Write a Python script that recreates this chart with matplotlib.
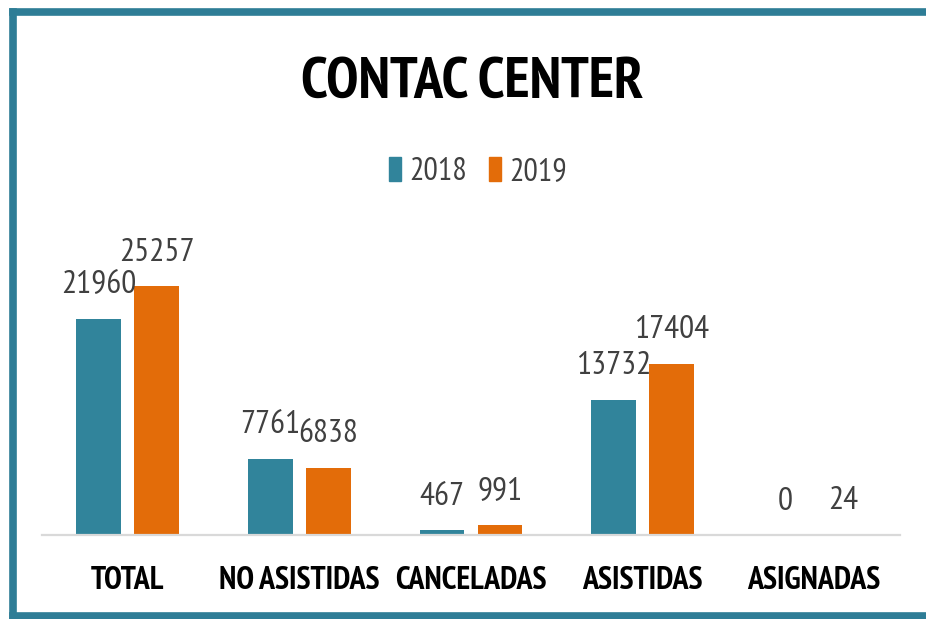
import matplotlib
matplotlib.use('Agg')
import matplotlib.pyplot as plt
from matplotlib.patches import Patch
from matplotlib.lines import Line2D
import numpy as np

# Datos del gráfico
categorias = ['TOTAL', 'NO ASISTIDAS', 'CANCELADAS', 'ASISTIDAS', 'ASIGNADAS']
valores_2018 = [21960, 7761, 467, 13732, 0]
valores_2019 = [25257, 6838, 991, 17404, 24]
series = ['2018', '2019']

color_2018 = '#31849B'
color_2019 = '#E36C09'
color_texto = '#404040'
color_marco = '#2E7D96'

plt.rcParams['font.family'] = ['PT Sans Narrow', 'DejaVu Sans']

fig = plt.figure(figsize=(9.26, 6.19), dpi=100)
ax = fig.add_axes([42/926, 1 - 535/619, 858/926, 335/619])

x = np.arange(len(categorias))
ancho = 0.262
off = 0.169
b1 = ax.bar(x - off, valores_2018, ancho, color=color_2018)
b2 = ax.bar(x + off, valores_2019, ancho, color=color_2019)

# Etiquetas de valores encima de cada barra
for barras in (b1, b2):
    for b in barras:
        h = b.get_height()
        ax.annotate(f'{int(h)}', (b.get_x() + b.get_width() / 2, h),
                    xytext=(0, 24), textcoords='offset points',
                    ha='center', va='center', fontsize=24, color=color_texto)

ax.set_xlim(-0.5, len(categorias) - 0.5)
ax.set_ylim(0, 34000)
ax.set_xticks(x)
ax.set_xticklabels(categorias, fontsize=23, fontweight='bold', color='black')
ax.tick_params(axis='x', length=0, pad=22)
ax.set_yticks([])
for s in ['top', 'left', 'right']:
    ax.spines[s].set_visible(False)
ax.spines['bottom'].set_color('#d9d9d9')
ax.spines['bottom'].set_linewidth(1.6)

# Título y leyenda
fig.text(472/926, 1 - 83/619, 'CONTAC CENTER', ha='center', va='center',
         fontsize=42, fontweight='bold', color='black')
handles = [Patch(color=color_2018), Patch(color=color_2019)]
leg = fig.legend(handles, series, loc='center', bbox_to_anchor=(478/926, 1 - 172/619),
                 ncol=2, frameon=False, fontsize=23, handlelength=0.38, handleheight=0.8,
                 handletextpad=0.25, columnspacing=0.7)
for t in leg.get_texts():
    t.set_color(color_texto)

# Marco azul (izquierda, arriba y abajo)
x0, y_top, y_bot = 13/926, 1 - 12/619, 1 - 616/619
for xs, ys in [([x0, x0], [y_bot, y_top]), ([x0, 1.0], [y_top, y_top]), ([x0, 1.0], [y_bot, y_bot])]:
    fig.add_artist(Line2D(xs, ys, transform=fig.transFigure, color=color_marco,
                          linewidth=5.5, solid_capstyle='projecting'))

fig.savefig('out.png', dpi=100)
